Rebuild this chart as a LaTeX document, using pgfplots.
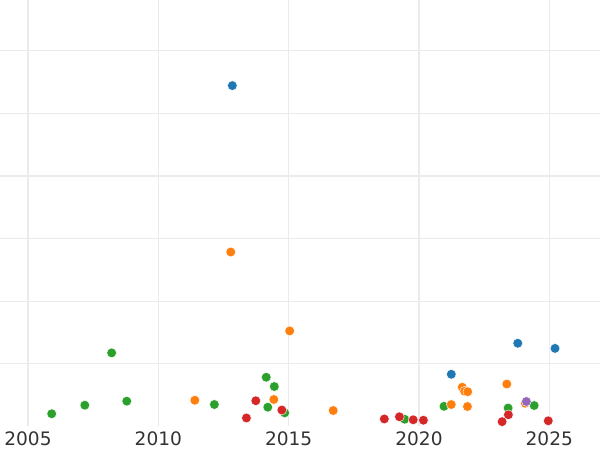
\documentclass[border=0pt]{standalone}
\usepackage{fontspec}
\setmainfont{DejaVu Sans}
\usepackage{pgfplots}
\pgfplotsset{compat=1.18}
\definecolor{tabblue}{HTML}{1F77B4}
\definecolor{taborange}{HTML}{FF7F0E}
\definecolor{tabgreen}{HTML}{2CA02C}
\definecolor{tabred}{HTML}{D62728}
\definecolor{tabpurple}{HTML}{9467BD}
\definecolor{gridgray}{HTML}{EBEBEB}
\definecolor{labgray}{HTML}{333333}
\pgfplotsset{dot/.style={only marks, mark=*, mark size=3.45pt, mark options={draw=white, fill=#1, line width=0.3pt}}}
\begin{document}
\begin{tikzpicture}
\begin{axis}[
  scale only axis,
  width=15cm, height=10.6625cm,
  xmin=2003.926, xmax=2026.945,
  ymin=0, ymax=6.81,
  xtick={2005,2010,2015,2020,2025},
  xticklabels={2005,2010,2015,2020,2025},
  ytick={1,2,3,4,5,6},
  yticklabels={},
  grid=major,
  major grid style={gridgray, line width=0.8pt},
  axis line style={draw=none},
  major tick length=0pt,
  tick style={draw=none},
  ticklabel style={font=\fontsize{13.2}{15}\selectfont, text=labgray},
  clip=false,
]
% green
\addplot[dot=tabgreen] coordinates {
(2008.21,1.175) (2005.91,0.203) (2007.18,0.340) (2008.79,0.404) (2012.15,0.351)
(2014.14,0.786) (2014.45,0.638) (2014.20,0.308) (2014.85,0.218) (2019.45,0.116)
(2020.96,0.322) (2023.42,0.295) (2024.42,0.335)
};
% orange
\addplot[dot=taborange] coordinates {
(2012.78,2.786) (2015.04,1.526) (2011.40,0.419) (2014.43,0.431) (2016.71,0.255)
(2021.24,0.351) (2021.66,0.627) (2021.75,0.563) (2021.87,0.555) (2021.86,0.319)
(2023.37,0.678) (2024.08,0.372)
};
% blue
\addplot[dot=tabblue] coordinates {
(2012.84,5.443) (2021.24,0.834) (2023.79,1.329) (2025.22,1.247)
};
% red
\addplot[dot=tabred] coordinates {
(2013.74,0.411) (2014.74,0.263) (2013.38,0.136) (2018.67,0.120) (2019.25,0.155)
(2019.78,0.107) (2020.17,0.100) (2023.43,0.187) (2023.19,0.077) (2024.96,0.091)
};
% purple
\addplot[dot=tabpurple] coordinates {
(2024.12,0.399)
};
\end{axis}
\pgfresetboundingbox
\path (current axis.south west) ++(0,-0.5875cm) rectangle (current axis.north east);
\end{tikzpicture}
\end{document}
